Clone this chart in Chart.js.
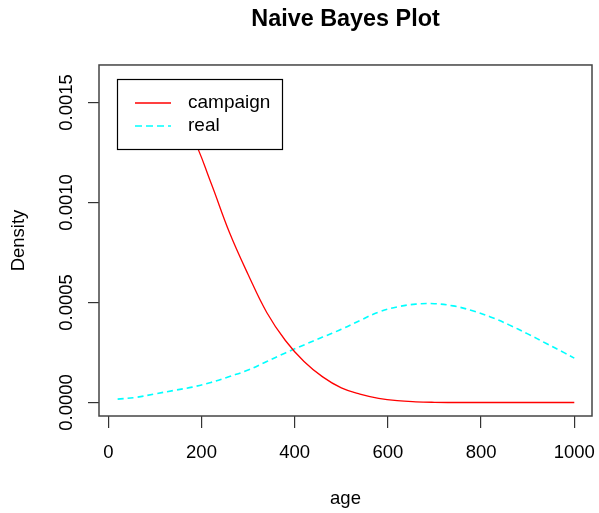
<!DOCTYPE html>
<html>
<head>
<meta charset="utf-8">
<script src="https://cdn.jsdelivr.net/npm/chart.js@4/dist/chart.umd.min.js"></script>
<style>
  html, body { margin: 0; padding: 0; background: #fff; }
  #wrap { width: 599px; height: 513px; }
</style>
</head>
<body>
<div id="wrap"><canvas id="plot" width="599" height="513"></canvas></div>
<script>
// values
const ages = [20, 60, 100, 140, 180, 220, 260, 300, 340, 380, 420, 460, 500,
              540, 580, 620, 660, 700, 740, 780, 820, 860, 900, 940, 980, 1000];
const campaignDensity = [0.00159, 0.00156, 0.00152, 0.00146, 0.00133, 0.00110, 0.00085, 0.00064,
                         0.00045, 0.00031, 0.000205, 0.000128, 0.000073, 0.000042, 0.000021,
                         0.000009, 0.0000035, 0.000001, 0, 0, 0, 0, 0, 0, 0, 0];
const realDensity = [0.000017, 0.000026, 0.000043, 0.000060, 0.000077, 0.000100, 0.000130, 0.000162,
                     0.000205, 0.000248, 0.000288, 0.000327, 0.000366, 0.000410, 0.000452, 0.000478,
                     0.000492, 0.000494, 0.000483, 0.000460, 0.000428, 0.000388, 0.000343,
                     0.000295, 0.000247, 0.000222];
const xTicks = [0, 200, 400, 600, 800, 1000];
const yTicks = [0, 0.0005, 0.0010, 0.0015];
const yTickLabels = ['0.0000', '0.0005', '0.0010', '0.0015'];
const seriesNames = ['campaign', 'real'];

const FONT = 'Liberation Sans, Arial, sans-serif';
const RED = '#ff0000';
const CYAN = '#00ffff';

const toPoints = (ys) => ages.map((a, i) => ({ x: a, y: ys[i] }));

// R-style extras: box around the plot, rotated y labels, legend inside the plot
const rStyle = {
    id: 'rStyle',
    afterDatasetsDraw(chart) {
        const { ctx } = chart;
        const lx = 117, ly = 79, lw = 165, lh = 70;
        ctx.save();
        ctx.fillStyle = '#fff';
        ctx.fillRect(lx, ly, lw, lh);
        ctx.strokeStyle = '#000';
        ctx.lineWidth = 1.2;
        ctx.strokeRect(lx + 0.5, ly + 0.5, lw, lh);

        const rows = [
            { y: 103, color: RED, dash: [], width: 1.3 },
            { y: 126, color: CYAN, dash: [7, 4], width: 1.6 }
        ];
        rows.forEach((r, i) => {
            ctx.beginPath();
            ctx.setLineDash(r.dash);
            ctx.strokeStyle = r.color;
            ctx.lineWidth = r.width;
            ctx.moveTo(135, r.y);
            ctx.lineTo(171, r.y);
            ctx.stroke();
            ctx.setLineDash([]);
            ctx.fillStyle = '#000';
            ctx.font = '19px ' + FONT;
            ctx.textAlign = 'left';
            ctx.textBaseline = 'middle';
            ctx.fillText(seriesNames[i], 188, r.y);
        });
        ctx.restore();
    },
    afterDraw(chart) {
        const { ctx, chartArea: a, scales } = chart;
        ctx.save();
        ctx.strokeStyle = '#444';
        ctx.lineWidth = 1.5;
        ctx.strokeRect(a.left, a.top, a.right - a.left, a.bottom - a.top);

        ctx.fillStyle = '#000';
        ctx.font = '18.5px ' + FONT;
        ctx.textAlign = 'center';
        ctx.textBaseline = 'alphabetic';
        yTicks.forEach((v, i) => {
            const py = scales.y.getPixelForValue(v);
            ctx.save();
            ctx.translate(72, py);
            ctx.rotate(-Math.PI / 2);
            ctx.fillText(yTickLabels[i], 0, 0);
            ctx.restore();
        });
        ctx.restore();
    }
};

new Chart(document.getElementById('plot').getContext('2d'), {
    type: 'line',
    data: {
        datasets: [
            {
                label: seriesNames[0],
                data: toPoints(campaignDensity),
                borderColor: RED,
                borderWidth: 1.3,
                pointRadius: 0,
                tension: 0.4
            },
            {
                label: seriesNames[1],
                data: toPoints(realDensity),
                borderColor: CYAN,
                borderWidth: 1.6,
                borderDash: [6, 4],
                pointRadius: 0,
                tension: 0.4
            }
        ]
    },
    plugins: [rStyle],
    options: {
        responsive: false,
        animation: false,
        layout: { padding: { top: 0, left: 0, right: 7, bottom: 0 } },
        plugins: {
            legend: { display: false },
            tooltip: { enabled: false },
            title: {
                display: true,
                text: 'Naive Bayes Plot',
                fullSize: false,
                color: '#000',
                font: { family: FONT, size: 23.4, weight: 'bold', lineHeight: 1.2 },
                padding: { top: 5.7, bottom: 31.2 }
            }
        },
        scales: {
            x: {
                type: 'linear',
                min: -20,
                max: 1038,
                afterBuildTicks: (s) => { s.ticks = xTicks.map(v => ({ value: v })); },
                afterFit: (s) => { s.height = 97; s.paddingLeft = 0; s.paddingRight = 0; },
                border: { display: false },
                grid: { drawOnChartArea: false, drawTicks: true, tickLength: 12, color: '#333', lineWidth: 1.2 },
                ticks: {
                    color: '#000',
                    font: { family: FONT, size: 18.5 },
                    padding: 14,
                    maxRotation: 0,
                    autoSkip: false,
                    callback: (v) => String(v)
                },
                title: {
                    display: true,
                    text: 'age',
                    color: '#000',
                    font: { family: FONT, size: 18.5, lineHeight: 1.2 },
                    padding: { top: 0, bottom: 3 }
                }
            },
            y: {
                type: 'linear',
                min: -0.0000675,
                max: 0.0016875,
                afterBuildTicks: (s) => { s.ticks = yTicks.map(v => ({ value: v })); },
                afterFit: (s) => { s.width = 99; s.paddingTop = 0; s.paddingBottom = 0; },
                border: { display: false },
                grid: { drawOnChartArea: false, drawTicks: true, tickLength: 11, color: '#333', lineWidth: 1.2 },
                ticks: { display: false },
                title: {
                    display: true,
                    text: 'Density',
                    color: '#000',
                    font: { family: FONT, size: 18.5, lineHeight: 1.2 },
                    padding: { top: 8, bottom: 0 }
                }
            }
        }
    }
});
</script>
</body>
</html>
